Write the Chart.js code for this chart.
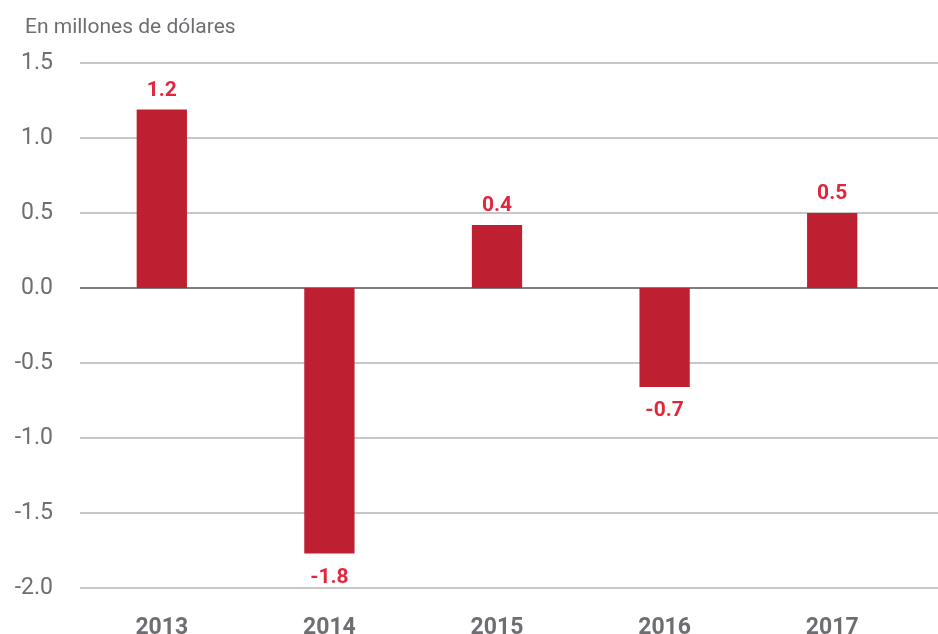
<!DOCTYPE html>
<html>
<head>
<meta charset="utf-8">
<script src="https://cdn.jsdelivr.net/npm/chart.js@4.4.0/dist/chart.umd.min.js"></script>
<style>
  html, body { margin: 0; padding: 0; background: #fff; }
  #wrap { width: 938px; height: 634px; position: relative; }
</style>
</head>
<body>
<div id="wrap"><canvas id="canvas"></canvas></div>
<script>
// datos
let years = ['2013', '2014', '2015', '2016', '2017'];
let values = [1.19, -1.77, 0.42, -0.66, 0.50];
let yTicks = [1.5, 1.0, 0.5, 0.0, -0.5, -1.0, -1.5, -2.0];
let unitTitle = 'En millones de dólares';

const gray = '#6d6e71';
const red = '#e4253b';
const barColor = '#be2032';
const fontFamily = 'Roboto, "Noto Sans", sans-serif';

// lineas horizontales que llegan hasta el borde derecho
const gridPlugin = {
    id: 'gridLines',
    beforeDatasetsDraw(chart) {
        let ctx = chart.ctx;
        let y = chart.scales.y;
        ctx.save();
        yTicks.forEach(function (t) {
            let py = y.getPixelForValue(t);
            ctx.beginPath();
            ctx.strokeStyle = t === 0 ? '#7f7f82' : '#b4b4b6';
            ctx.lineWidth = t === 0 ? 2 : 1.5;
            ctx.moveTo(80, py);
            ctx.lineTo(chart.width, py);
            ctx.stroke();
        });
        ctx.restore();
    }
};

// etiquetas de valor y titulo de unidades
const labelPlugin = {
    id: 'valueLabels',
    afterDatasetsDraw(chart) {
        let ctx = chart.ctx;
        ctx.save();
        ctx.fillStyle = gray;
        ctx.font = '21px ' + fontFamily;
        ctx.textAlign = 'left';
        ctx.textBaseline = 'alphabetic';
        ctx.fillText(unitTitle, 25, 33);

        ctx.fillStyle = red;
        ctx.font = 'bold 21px ' + fontFamily;
        ctx.textAlign = 'center';
        chart.getDatasetMeta(0).data.forEach(function (bar, i) {
            let v = values[i];
            let txt = v.toFixed(1);
            if (v >= 0) {
                ctx.fillText(txt, bar.x, bar.y - 14);
            } else {
                ctx.fillText(txt, bar.x, bar.y + 29);
            }
        });
        ctx.restore();
    }
};

let ctx = document.getElementById('canvas');
let chart = new Chart(ctx, {
    type: 'bar',
    data: {
        labels: years,
        datasets: [{
            data: values,
            backgroundColor: barColor,
            borderWidth: 0,
            barPercentage: 0.6,
            categoryPercentage: 0.5
        }]
    },
    options: {
        responsive: true,
        maintainAspectRatio: false,
        animation: false,
        layout: { padding: { left: 10, right: 22, top: 63, bottom: 0 } },
        plugins: {
            legend: { display: false },
            tooltip: { enabled: false }
        },
        scales: {
            x: {
                grid: { display: false, drawTicks: false },
                border: { display: false },
                ticks: {
                    color: gray,
                    padding: 26,
                    font: { family: fontFamily, size: 23, weight: 'bold' }
                },
                afterFit: function (s) { s.height = 46; }
            },
            y: {
                min: -2,
                max: 1.5,
                grid: { display: false, drawTicks: false },
                border: { display: false },
                ticks: {
                    stepSize: 0.5,
                    color: gray,
                    padding: 25,
                    font: { family: fontFamily, size: 23 },
                    callback: function (v) { return v.toFixed(1); }
                },
                afterFit: function (s) { s.width = 68; }
            }
        }
    },
    plugins: [gridPlugin, labelPlugin]
});
</script>
</body>
</html>
